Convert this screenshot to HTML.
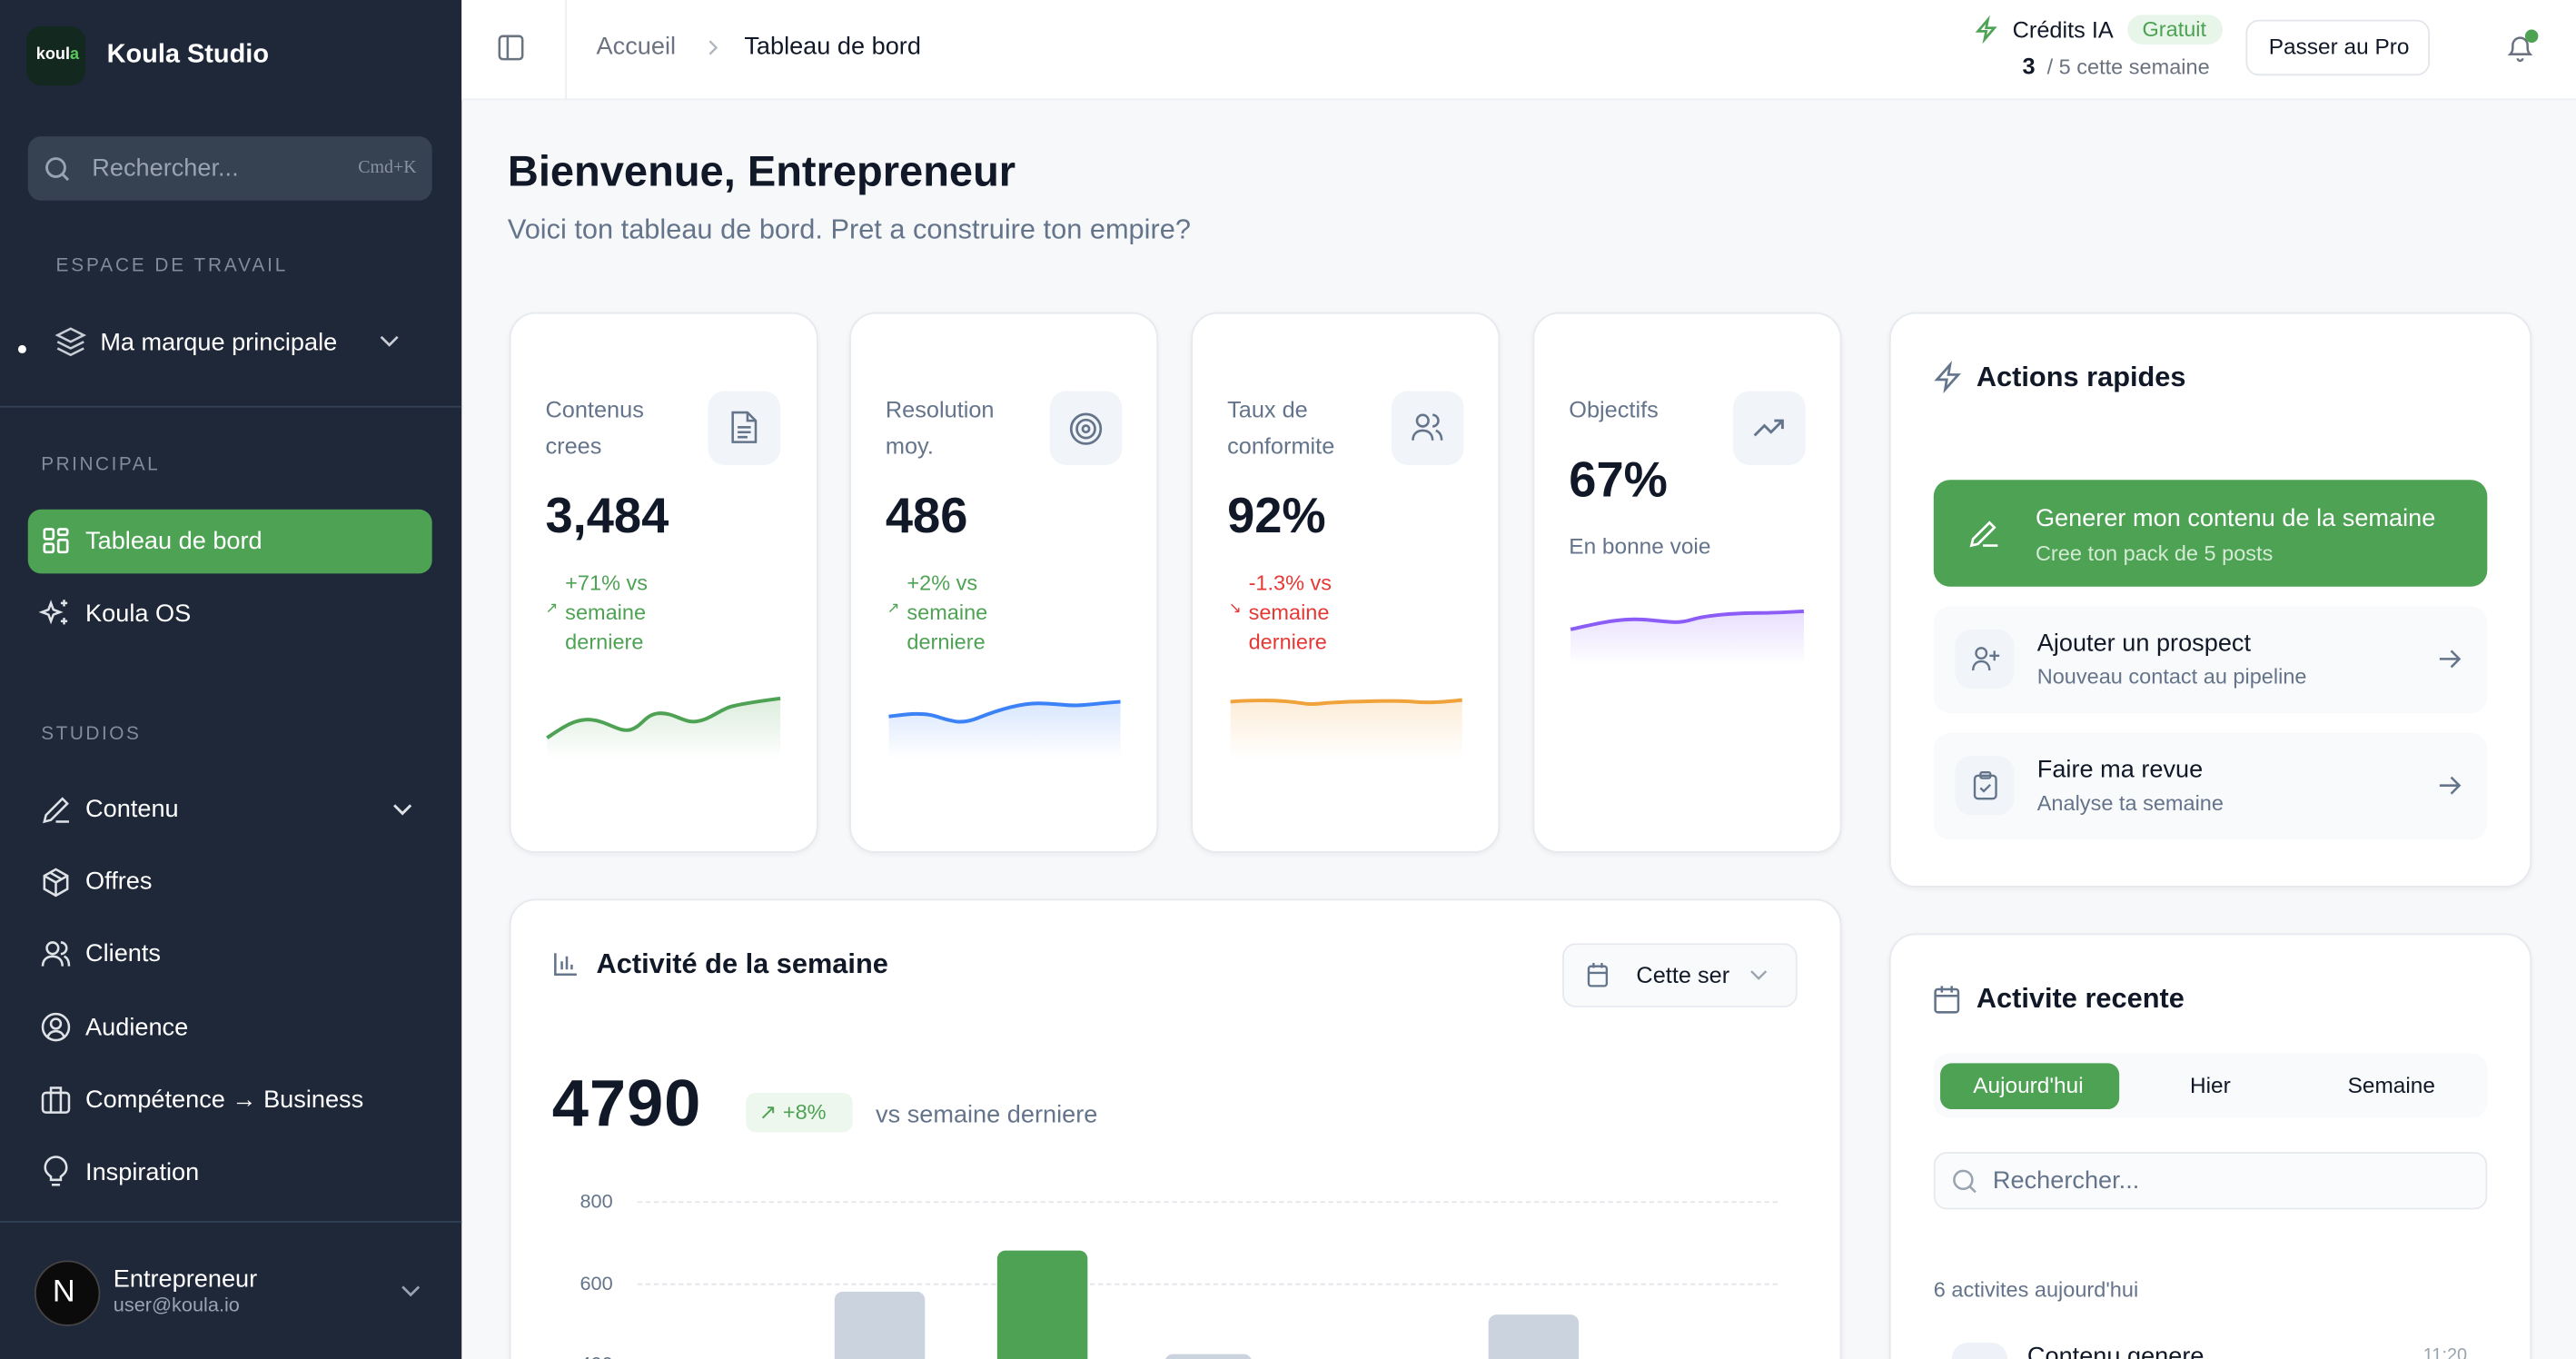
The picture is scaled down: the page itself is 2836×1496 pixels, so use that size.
<!DOCTYPE html>
<html><head><meta charset="utf-8"><style>
html,body{margin:0;padding:0;width:2836px;height:1496px;overflow:hidden;background:#f7f8fa}
#w{position:absolute;left:0;top:0;width:1568px;height:827px;transform:scale(1.80867,1.80895);transform-origin:0 0;font-family:"Liberation Sans",sans-serif;overflow:hidden;background:#f7f8fa}
.a{position:absolute}
.t{position:absolute;white-space:nowrap;line-height:1}
.card{position:absolute;background:#fff;border:1px solid #e6e9ee;border-radius:16px;box-shadow:0 1px 3px rgba(0,0,0,.05);box-sizing:border-box}
.sb{color:#fff;font-size:15px}
.ic{position:absolute;border-radius:10px;background:#f1f4f8}
svg{position:absolute;overflow:visible}
</style></head><body><div id="w">
<!-- sidebar -->
<div class="a" style="left:0;top:0;width:281px;height:827px;background:#1f2839"></div>
<div class="a" style="left:16px;top:16px;width:36px;height:36px;border-radius:9px;background:#13291f"></div>
<div class="t" style="left:22px;top:29px;font-size:10px;font-weight:bold;color:#fff">koul<span style="color:#5cc35f">a</span></div>
<div class="t" style="left:65px;top:26px;font-size:16px;font-weight:bold;color:#fff">Koula Studio</div>
<div class="a" style="left:17px;top:83px;width:246px;height:39px;border-radius:8px;background:#364152"></div>
<svg style="left:27px;top:95px" width="16" height="16"><circle cx="7" cy="7" r="5.5" fill="none" stroke="#9aa3b0" stroke-width="1.6"/><path d="M11 11l3.5 3.5" stroke="#9aa3b0" stroke-width="1.6"/></svg>
<div class="t" style="left:56px;top:95px;font-size:15px;color:#9aa3b0">Rechercher...</div>
<div class="t" style="left:218px;top:97px;font-size:11px;color:#8a93a0;font-family:'Liberation Serif',serif">Cmd+K</div>
<div class="t" style="left:34px;top:157px;font-size:11.5px;letter-spacing:1.6px;color:#828b99">ESPACE DE TRAVAIL</div>
<div class="a" style="left:11px;top:210px;width:5px;height:5px;border-radius:50%;background:#fff"></div>
<svg style="left:34px;top:199px" width="18" height="18" fill="none" stroke="#c9ced6" stroke-width="1.4"><path d="M9 1l8 4-8 4-8-4z"/><path d="M1 9l8 4 8-4"/><path d="M1 13l8 4 8-4"/></svg>
<div class="t sb" style="left:61px;top:201px">Ma marque principale</div>
<svg style="left:231px;top:204px" width="12" height="8"><path d="M1 1l5 5 5-5" fill="none" stroke="#c9ced6" stroke-width="1.5"/></svg>
<div class="a" style="left:0;top:247px;width:281px;height:1px;background:#334155"></div>
<div class="t" style="left:25px;top:278px;font-size:11.5px;letter-spacing:1.4px;color:#828b99">PRINCIPAL</div>
<div class="a" style="left:17px;top:310px;width:246px;height:39px;border-radius:8px;background:#4ea254"></div>
<svg style="left:26px;top:321px" width="16" height="16" fill="none" stroke="#fff" stroke-width="1.5"><rect x="1" y="1" width="5.5" height="6" rx="1"/><rect x="9.5" y="1" width="5.5" height="3.5" rx="1"/><rect x="1" y="10" width="5.5" height="5" rx="1"/><rect x="9.5" y="7.5" width="5.5" height="7.5" rx="1"/></svg>
<div class="t sb" style="left:52px;top:322px">Tableau de bord</div>
<svg style="left:25px;top:364px" width="18" height="18" fill="none" stroke="#dfe3e8" stroke-width="1.4"><path d="M6 3l1.5 4 4 1.5-4 1.5L6 14l-1.5-4L.5 8.5l4-1.5z"/><path d="M14 1v4M12 3h4M14 12v4M12 14h4"/></svg>
<div class="t sb" style="left:52px;top:366px">Koula OS</div>
<div class="t" style="left:25px;top:442px;font-size:11.5px;letter-spacing:1.4px;color:#828b99">STUDIOS</div>
<svg style="left:25px;top:484px" width="18" height="18" fill="none" stroke="#dfe3e8" stroke-width="1.4"><path d="M2 16l1-4L13 2l3 3L6 15z"/><path d="M9 16h8"/></svg>
<div class="t sb" style="left:52px;top:485px">Contenu</div>
<svg style="left:239px;top:489px" width="12" height="8"><path d="M1 1l5 5 5-5" fill="none" stroke="#dfe3e8" stroke-width="1.6"/></svg>
<svg style="left:25px;top:528px" width="18" height="18" fill="none" stroke="#dfe3e8" stroke-width="1.4"><path d="M9 1l7 4v8l-7 4-7-4V5z"/><path d="M2 5l7 4 7-4M9 9v8M5.5 3l7 4"/></svg>
<div class="t sb" style="left:52px;top:529px">Offres</div>
<svg style="left:25px;top:572px" width="18" height="18" fill="none" stroke="#dfe3e8" stroke-width="1.4"><circle cx="7" cy="5" r="3.5"/><path d="M1 16c0-4 2.5-6 6-6s6 2 6 6"/><path d="M12 1.5a3.5 3.5 0 010 7M14 10c2 .8 3 2.8 3 6"/></svg>
<div class="t sb" style="left:52px;top:573px">Clients</div>
<svg style="left:25px;top:616px" width="18" height="18" fill="none" stroke="#dfe3e8" stroke-width="1.4"><circle cx="9" cy="9" r="8"/><circle cx="9" cy="7" r="3"/><path d="M4 15c1-2.5 3-3.5 5-3.5s4 1 5 3.5"/></svg>
<div class="t sb" style="left:52px;top:618px">Audience</div>
<svg style="left:25px;top:660px" width="18" height="18" fill="none" stroke="#dfe3e8" stroke-width="1.4"><rect x="1" y="5" width="16" height="12" rx="2"/><path d="M6 5V2h6v3M6 5v12M12 5v12"/></svg>
<div class="t sb" style="left:52px;top:662px">Compétence → Business</div>
<svg style="left:26px;top:704px" width="16" height="18" fill="none" stroke="#dfe3e8" stroke-width="1.4"><path d="M5 12c-2-1.5-3.5-3-3.5-5.5a6.5 6.5 0 0113 0c0 2.5-1.5 4-3.5 5.5v2H5z"/><path d="M5.5 17h5"/></svg>
<div class="t sb" style="left:52px;top:706px">Inspiration</div>
<div class="a" style="left:0;top:743px;width:281px;height:1px;background:#334155"></div>
<div class="a" style="left:21px;top:767px;width:38px;height:38px;border-radius:50%;background:#0b0b0b;border:1px solid #444"></div>
<div class="t" style="left:32px;top:777px;font-size:19px;color:#fff">N</div>
<div class="t sb" style="left:69px;top:771px">Entrepreneur</div>
<div class="t" style="left:69px;top:788px;font-size:12px;color:#9aa3b0">user@koula.io</div>
<svg style="left:244px;top:782px" width="12" height="8"><path d="M1 1l5 5 5-5" fill="none" stroke="#9aa3b0" stroke-width="1.5"/></svg>

<!-- header -->
<div class="a" style="left:281px;top:0;width:1287px;height:60px;background:#fff;border-bottom:1px solid #eceef2"></div>
<svg style="left:303px;top:21px" width="16" height="16" fill="none" stroke="#6b7280" stroke-width="1.4"><rect x="1" y="1" width="14" height="14" rx="2"/><path d="M6 1v14"/></svg>
<div class="a" style="left:344px;top:0;width:1px;height:60px;background:#eceef2"></div>
<div class="t" style="left:363px;top:21px;font-size:15px;color:#6b7280">Accueil</div>
<svg style="left:430px;top:24px" width="8" height="10"><path d="M2 1l4 4-4 4" fill="none" stroke="#b0b6bf" stroke-width="1.3"/></svg>
<div class="t" style="left:453px;top:21px;font-size:15px;color:#111827">Tableau de bord</div>
<svg style="left:1202px;top:11px" width="14" height="14" fill="none" stroke="#4ea254" stroke-width="1.5"><path d="M8 1L2 8h5l-1 5 6-7H7z"/></svg>
<div class="t" style="left:1225px;top:11px;font-size:14px;color:#111827">Crédits IA</div>
<div class="a" style="left:1295px;top:9px;width:58px;height:18px;border-radius:9px;background:#e8f5e9"></div>
<div class="t" style="left:1304px;top:11px;font-size:13px;color:#4ea254">Gratuit</div>
<div class="t" style="left:1231px;top:33px;font-size:14px;font-weight:bold;color:#111827">3</div>
<div class="t" style="left:1246px;top:34px;font-size:13px;color:#6b7280">/ 5 cette semaine</div>
<div class="a" style="left:1367px;top:12px;width:112px;height:34px;border-radius:8px;border:1px solid #e2e6eb;box-sizing:border-box;background:#fff"></div>
<div class="t" style="left:1381px;top:22px;font-size:13.5px;color:#111827">Passer au Pro</div>
<svg style="left:1525px;top:20px" width="18" height="18" fill="none" stroke="#6b7280" stroke-width="1.4"><path d="M3 13c1.5-1.5 1.5-3 1.5-5.5a4.5 4.5 0 019 0c0 2.5 0 4 1.5 5.5z"/><path d="M7.5 15.5a1.5 1.5 0 003 0"/></svg>
<div class="a" style="left:1537px;top:18px;width:8px;height:8px;border-radius:50%;background:#4ea254"></div>

<!-- welcome -->
<div class="t" style="left:309px;top:91px;font-size:26px;font-weight:bold;color:#111827">Bienvenue, Entrepreneur</div>
<div class="t" style="left:309px;top:131px;font-size:17px;color:#64748b">Voici ton tableau de bord. Pret a construire ton empire?</div>

<!-- stat cards -->
<div class="card" style="left:310px;top:190px;width:188px;height:329px"></div>
<div class="card" style="left:517px;top:190px;width:188px;height:329px"></div>
<div class="card" style="left:725px;top:190px;width:188px;height:329px"></div>
<div class="card" style="left:933px;top:190px;width:188px;height:329px"></div>

<div class="t" style="left:332px;top:238px;font-size:14px;color:#64748b;line-height:22px">Contenus<br>crees</div>
<div class="t" style="left:539px;top:238px;font-size:14px;color:#64748b;line-height:22px">Resolution<br>moy.</div>
<div class="t" style="left:747px;top:238px;font-size:14px;color:#64748b;line-height:22px">Taux de<br>conformite</div>
<div class="t" style="left:955px;top:242px;font-size:14px;color:#64748b">Objectifs</div>

<div class="ic" style="left:431px;top:238px;width:44px;height:45px"></div>
<div class="ic" style="left:639px;top:238px;width:44px;height:45px"></div>
<div class="ic" style="left:847px;top:238px;width:44px;height:45px"></div>
<div class="ic" style="left:1055px;top:238px;width:44px;height:45px"></div>
<svg style="left:444px;top:250px" width="18" height="20" fill="none" stroke="#64748b" stroke-width="1.4"><path d="M2 1h9l5 5v13H2z"/><path d="M11 1v5h5M5 10h8M5 13h8M5 16h6"/></svg>
<svg style="left:651px;top:251px" width="20" height="20" fill="none" stroke="#64748b" stroke-width="1.5"><circle cx="10" cy="10" r="9"/><circle cx="10" cy="10" r="5.5"/><circle cx="10" cy="10" r="2"/></svg>
<svg style="left:859px;top:251px" width="20" height="18" fill="none" stroke="#64748b" stroke-width="1.4"><circle cx="7" cy="5" r="3.5"/><path d="M1 17c0-4 2.5-6 6-6s6 2 6 6"/><path d="M13 1.5a3.5 3.5 0 010 7M15 11c2 .8 3.5 2.8 3.5 6"/></svg>
<svg style="left:1067px;top:254px" width="20" height="12" fill="none" stroke="#64748b" stroke-width="1.6"><path d="M1 11l6-6 4 4 7-7M13 2h5v5"/></svg>

<div class="t" style="left:332px;top:300px;font-size:30px;font-weight:bold;color:#111827">3,484</div>
<div class="t" style="left:539px;top:300px;font-size:30px;font-weight:bold;color:#111827">486</div>
<div class="t" style="left:747px;top:300px;font-size:30px;font-weight:bold;color:#111827">92%</div>
<div class="t" style="left:955px;top:278px;font-size:30px;font-weight:bold;color:#111827">67%</div>
<div class="t" style="left:955px;top:326px;font-size:13.5px;color:#64748b">En bonne voie</div>

<div class="t" style="left:344px;top:346px;font-size:13px;color:#4ea254;line-height:18px">+71% vs<br>semaine<br>derniere</div>
<div class="t" style="left:332px;top:366px;font-size:9px;color:#4ea254">↗</div>
<div class="t" style="left:552px;top:346px;font-size:13px;color:#4ea254;line-height:18px">+2% vs<br>semaine<br>derniere</div>
<div class="t" style="left:540px;top:366px;font-size:9px;color:#4ea254">↗</div>
<div class="t" style="left:760px;top:346px;font-size:13px;color:#e53935;line-height:18px">-1.3% vs<br>semaine<br>derniere</div>
<div class="t" style="left:748px;top:366px;font-size:9px;color:#e53935">↘</div>

<svg style="left:0;top:0" width="1568" height="827">
<defs>
<linearGradient id="g1" x1="0" y1="0" x2="0" y2="1"><stop offset="0" stop-color="#4ea254" stop-opacity=".2"/><stop offset="1" stop-color="#4ea254" stop-opacity="0"/></linearGradient>
<linearGradient id="g2" x1="0" y1="0" x2="0" y2="1"><stop offset="0" stop-color="#3b82f6" stop-opacity=".2"/><stop offset="1" stop-color="#3b82f6" stop-opacity="0"/></linearGradient>
<linearGradient id="g3" x1="0" y1="0" x2="0" y2="1"><stop offset="0" stop-color="#f0a23b" stop-opacity=".2"/><stop offset="1" stop-color="#f0a23b" stop-opacity="0"/></linearGradient>
<linearGradient id="g4" x1="0" y1="0" x2="0" y2="1"><stop offset="0" stop-color="#8b5cf6" stop-opacity=".2"/><stop offset="1" stop-color="#8b5cf6" stop-opacity="0"/></linearGradient>
</defs>
<path d="M333 449C342 443 350 437 360 438S377 446 384 444 393 434 402 434 416 440 424 439 438 432 445 430 475 425 475 425V462H333Z" fill="url(#g1)"/>
<path d="M333 449C342 443 350 437 360 438S377 446 384 444 393 434 402 434 416 440 424 439 438 432 445 430 475 425 475 425" fill="none" stroke="#4ea254" stroke-width="2.2"/>
<path d="M541 436C550 435 560 433 570 436S585 441 595 437 620 428 632 428 650 430 660 429 682 427 682 427V462H541Z" fill="url(#g2)"/>
<path d="M541 436C550 435 560 433 570 436S585 441 595 437 620 428 632 428 650 430 660 429 682 427 682 427" fill="none" stroke="#3b82f6" stroke-width="2.2"/>
<path d="M749 427C760 426 775 426 785 427S795 429 805 428 850 426 860 427 880 427 890 426V462H749Z" fill="url(#g3)"/>
<path d="M749 427C760 426 775 426 785 427S795 429 805 428 850 426 860 427 880 427 890 426" fill="none" stroke="#f0a23b" stroke-width="2.2"/>
<path d="M956 383C970 380 985 376 1000 377S1020 380 1030 377 1060 373 1070 373 1098 372 1098 372V405H956Z" fill="url(#g4)"/>
<path d="M956 383C970 380 985 376 1000 377S1020 380 1030 377 1060 373 1070 373 1098 372 1098 372" fill="none" stroke="#8b5cf6" stroke-width="2.2"/>
</svg>

<!-- activity card -->
<div class="card" style="left:310px;top:547px;width:811px;height:320px"></div>
<svg style="left:337px;top:579px" width="15" height="15" fill="none" stroke="#64748b" stroke-width="1.4"><path d="M1 1v13h13M5 11V6M8 11V3M11 11V8"/></svg>
<div class="t" style="left:363px;top:578px;font-size:17px;font-weight:bold;color:#111827">Activité de la semaine</div>
<div class="a" style="left:951px;top:574px;width:143px;height:39px;border-radius:8px;border:1px solid #e6e9ee;background:#f8fafc;box-sizing:border-box"></div>
<svg style="left:966px;top:586px" width="13" height="15" fill="none" stroke="#64748b" stroke-width="1.3"><rect x="1" y="2" width="11" height="12" rx="1.5"/><path d="M1 6h11M4 0v3M9 0v3"/></svg>
<div class="t" style="left:996px;top:586px;font-size:14px;color:#111827">Cette ser</div>
<svg style="left:1065px;top:590px" width="11" height="7"><path d="M1 1l4.5 4.5L10 1" fill="none" stroke="#9aa3b0" stroke-width="1.3"/></svg>
<div class="t" style="left:336px;top:652px;font-size:40px;font-weight:bold;color:#111827;letter-spacing:0.5px">4790</div>
<div class="a" style="left:454px;top:665px;width:65px;height:24px;border-radius:6px;background:#eef7ee"></div>
<div class="t" style="left:462px;top:670px;font-size:13px;color:#4ea254">↗ +8%</div>
<div class="t" style="left:533px;top:671px;font-size:15px;color:#64748b">vs semaine derniere</div>
<div class="t" style="left:353px;top:725px;font-size:12px;color:#64748b">800</div>
<div class="t" style="left:353px;top:775px;font-size:12px;color:#64748b">600</div>
<div class="t" style="left:353px;top:824px;font-size:12px;color:#64748b">400</div>
<div class="a" style="left:388px;top:731px;width:694px;border-top:1px dashed #e2e5ea"></div>
<div class="a" style="left:388px;top:781px;width:694px;border-top:1px dashed #e2e5ea"></div>
<div class="a" style="left:508px;top:786px;width:55px;height:60px;background:#cbd3df;border-radius:5px 5px 0 0"></div>
<div class="a" style="left:607px;top:761px;width:55px;height:80px;background:#4ea254;border-radius:5px 5px 0 0"></div>
<div class="a" style="left:709px;top:824px;width:53px;height:20px;background:#cbd3df;border-radius:5px 5px 0 0"></div>
<div class="a" style="left:906px;top:800px;width:55px;height:40px;background:#cbd3df;border-radius:5px 5px 0 0"></div>

<!-- actions rapides -->
<div class="card" style="left:1150px;top:190px;width:391px;height:350px"></div>
<svg style="left:1177px;top:221px" width="17" height="17" fill="none" stroke="#64748b" stroke-width="1.5"><path d="M10 1L2 10h6l-1 6 8-9H9z"/></svg>
<div class="t" style="left:1203px;top:221px;font-size:17px;font-weight:bold;color:#111827">Actions rapides</div>
<div class="a" style="left:1177px;top:292px;width:337px;height:65px;border-radius:10px;background:#4ea254"></div>
<svg style="left:1199px;top:316px" width="18" height="17" fill="none" stroke="#fff" stroke-width="1.5"><path d="M1 16l1-4L12 2l3 3L5 15z"/><path d="M8 16h9"/></svg>
<div class="t" style="left:1239px;top:308px;font-size:15px;color:#fff">Generer mon contenu de la semaine</div>
<div class="t" style="left:1239px;top:330px;font-size:13px;color:#d3ebd4">Cree ton pack de 5 posts</div>
<div class="a" style="left:1177px;top:369px;width:337px;height:65px;border-radius:10px;background:#f9fafb"></div>
<div class="ic" style="left:1190px;top:383px;width:36px;height:36px"></div>
<svg style="left:1200px;top:393px" width="18" height="16" fill="none" stroke="#64748b" stroke-width="1.3"><circle cx="6" cy="4.5" r="3.2"/><path d="M1 15c0-3.5 2-5.5 5-5.5s5 2 5 5.5M14 3v6M11 6h6"/></svg>
<div class="t" style="left:1240px;top:384px;font-size:15px;color:#111827">Ajouter un prospect</div>
<div class="t" style="left:1240px;top:405px;font-size:13px;color:#64748b">Nouveau contact au pipeline</div>
<svg style="left:1484px;top:395px" width="14" height="12" fill="none" stroke="#64748b" stroke-width="1.4"><path d="M1 6h12M8 1l5 5-5 5"/></svg>
<div class="a" style="left:1177px;top:446px;width:337px;height:65px;border-radius:10px;background:#f9fafb"></div>
<div class="ic" style="left:1190px;top:460px;width:36px;height:36px"></div>
<svg style="left:1201px;top:469px" width="15" height="18" fill="none" stroke="#64748b" stroke-width="1.3"><rect x="1" y="3" width="13" height="14" rx="2"/><rect x="4.5" y="1" width="6" height="3.5" rx="1"/><path d="M4.5 10.5l2 2 4-4"/></svg>
<div class="t" style="left:1240px;top:461px;font-size:15px;color:#111827">Faire ma revue</div>
<div class="t" style="left:1240px;top:482px;font-size:13px;color:#64748b">Analyse ta semaine</div>
<svg style="left:1484px;top:472px" width="14" height="12" fill="none" stroke="#64748b" stroke-width="1.4"><path d="M1 6h12M8 1l5 5-5 5"/></svg>

<!-- activite recente -->
<div class="card" style="left:1150px;top:568px;width:391px;height:300px"></div>
<svg style="left:1177px;top:599px" width="16" height="18" fill="none" stroke="#64748b" stroke-width="1.4"><rect x="1" y="3" width="14" height="14" rx="1.5"/><path d="M1 7h14M5 1v4M11 1v4"/></svg>
<div class="t" style="left:1203px;top:599px;font-size:17px;font-weight:bold;color:#111827">Activite recente</div>
<div class="a" style="left:1177px;top:641px;width:337px;height:39px;border-radius:9px;background:#f8fafc"></div>
<div class="a" style="left:1181px;top:647px;width:109px;height:28px;border-radius:7px;background:#4ea254"></div>
<div class="t" style="left:1201px;top:654px;font-size:13.5px;color:#fff">Aujourd'hui</div>
<div class="t" style="left:1333px;top:654px;font-size:13.5px;color:#111827">Hier</div>
<div class="t" style="left:1429px;top:654px;font-size:13.5px;color:#111827">Semaine</div>
<div class="a" style="left:1177px;top:701px;width:337px;height:35px;border-radius:8px;border:1px solid #e6e9ee;background:#fafbfc;box-sizing:border-box"></div>
<svg style="left:1188px;top:711px" width="16" height="16"><circle cx="7" cy="7" r="5.5" fill="none" stroke="#9aa3b0" stroke-width="1.4"/><path d="M11 11l3.5 3.5" stroke="#9aa3b0" stroke-width="1.4"/></svg>
<div class="t" style="left:1213px;top:711px;font-size:15px;color:#64748b">Rechercher...</div>
<div class="t" style="left:1177px;top:778px;font-size:13px;color:#64748b">6 activites aujourd'hui</div>
<div class="a" style="left:1188px;top:817px;width:34px;height:34px;border-radius:10px;background:#eef2f8"></div>
<div class="t" style="left:1234px;top:818px;font-size:15px;color:#111827">Contenu genere</div>
<div class="t" style="left:1475px;top:820px;font-size:11px;color:#9aa3b0">11:20</div>
</div></body></html>
